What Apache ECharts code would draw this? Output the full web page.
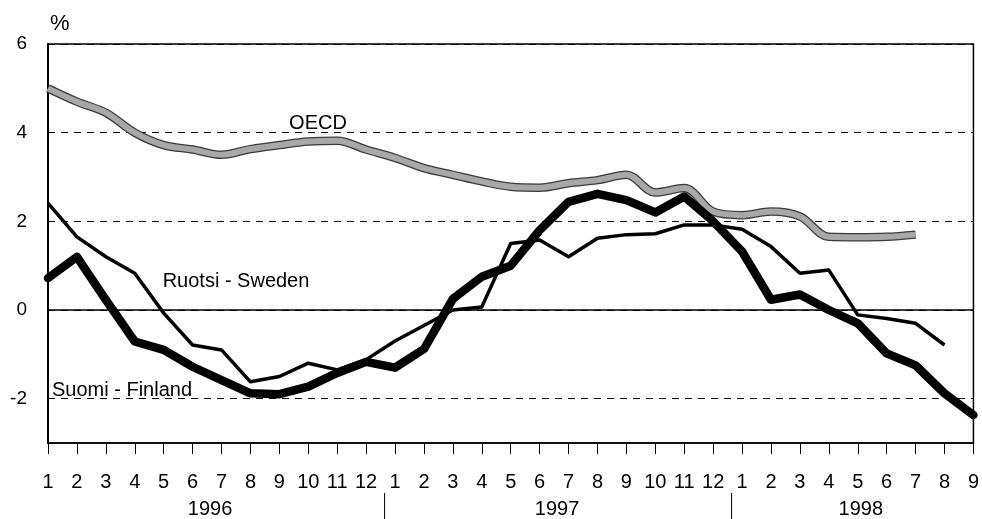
<!DOCTYPE html>
<html><head><meta charset="utf-8">
<script src="https://cdn.jsdelivr.net/npm/echarts@6/dist/echarts.min.js"></script>
<style>html,body{margin:0;padding:0;background:#fff}#c{width:982px;height:519px}</style>
</head><body><div id="c"></div>
<script>
const months = ['1','2','3','4','5','6','7','8','9','10','11','12',
                '1','2','3','4','5','6','7','8','9','10','11','12',
                '1','2','3','4','5','6','7','8','9'];
const years = ['1996','1997','1998'];
const yearSpans = [[0,11],[12,23],[24,32]];
const yTicks = [-2,0,2,4,6];
const oecd = [5.0,4.7,4.45,4.0,3.72,3.62,3.5,3.63,3.72,3.8,3.82,3.62,
              3.43,3.2,3.05,2.9,2.78,2.76,2.86,2.93,3.05,2.65,2.75,2.22,
              2.14,2.22,2.11,1.65,1.64,1.65,1.70,null,null];
const sweden = [2.41,1.65,1.2,0.83,-0.07,-0.79,-0.9,-1.62,-1.5,-1.2,-1.35,-1.12,
                -0.7,-0.35,0.0,0.07,1.5,1.58,1.2,1.62,1.7,1.72,1.92,1.92,
                1.82,1.43,0.83,0.9,-0.11,-0.19,-0.3,-0.79,null];
const finland = [0.72,1.2,0.23,-0.71,-0.9,-1.28,-1.58,-1.88,-1.9,-1.73,-1.42,-1.17,
                 -1.3,-0.88,0.25,0.75,1.0,1.8,2.44,2.62,2.48,2.2,2.56,2.0,
                 1.32,0.23,0.35,0.0,-0.3,-0.98,-1.25,-1.88,-2.37];
const seriesNames = ['OECD','Ruotsi - Sweden','Suomi - Finland'];

const FONT = 'Liberation Sans, Arial, Helvetica, sans-serif';
const NARROW = '"Liberation Sans Narrow", "Arial Narrow", "Liberation Sans", sans-serif';
const chart = echarts.init(document.getElementById('c'));
chart.setOption({
  animation: false,
  backgroundColor: '#fff',
  grid: {left: 48, right: 8, top: 44, bottom: 76, show: true, borderColor: '#000', borderWidth: 1.5},
  xAxis: {
    type: 'category', data: months, boundaryGap: false,
    axisLine: {show: true, onZero: false, lineStyle: {color: '#000', width: 1.5}},
    axisTick: {show: true, interval: 0, length: 11, lineStyle: {color: '#000', width: 1}},
    axisLabel: {interval: 0, margin: 29, color: '#000', fontSize: 20, fontFamily: NARROW},
    splitLine: {show: false}
  },
  yAxis: {
    type: 'value', min: -3, max: 6, interval: 1,
    name: '%', nameLocation: 'end', nameGap: 9,
    nameTextStyle: {color: '#000', fontSize: 22, fontFamily: FONT, align: 'left', padding: [0,0,0,2]},
    axisLine: {show: true, lineStyle: {color: '#000', width: 2}},
    axisTick: {show: false},
    axisLabel: {color: '#000', fontSize: 19, fontFamily: NARROW, margin: 21, padding: [5,0,0,0],
      formatter: v => (yTicks.indexOf(v) >= 0 ? String(v) : '')},
    splitLine: {show: true, lineStyle: {color: ['transparent', '#000'], type: [7, 6], width: 1}}
  },
  series: [
    {name: seriesNames[0] + '-edge', type: 'line', data: oecd, smooth: 0.35, symbol: 'none',
     lineStyle: {color: '#3a3a3a', width: 8.5}, z: 2},
    {name: seriesNames[0], type: 'line', data: oecd, smooth: 0.35, symbol: 'none',
     lineStyle: {color: '#a8a8a8', width: 6}, z: 3},
    {name: seriesNames[1], type: 'line', data: sweden, symbol: 'none',
     lineStyle: {color: '#000', width: 3.5, join: 'round'}, z: 4,
     markLine: {silent: true, symbol: 'none', label: {show: false},
       lineStyle: {color: '#000', type: 'solid', width: 1.5}, data: [{yAxis: 0}]}},
    {name: seriesNames[2], type: 'line', data: finland, symbol: 'none',
     lineStyle: {color: '#000', width: 8.5, join: 'round', cap: 'round'}, z: 5}
  ]
});

function placeExtras() {
  const yBase = chart.convertToPixel({yAxisIndex: 0}, -3);
  const els = [];
  yearSpans.forEach((s, k) => {
    const x0 = chart.convertToPixel({xAxisIndex: 0}, s[0]);
    const x1 = chart.convertToPixel({xAxisIndex: 0}, s[1]);
    els.push({type: 'text', x: (x0 + x1) / 2 + 3, y: yBase + 66,
      style: {text: years[k], fill: '#000', font: '20px ' + NARROW, textAlign: 'center', textVerticalAlign: 'middle'}});
    if (k < yearSpans.length - 1) {
      const xn = chart.convertToPixel({xAxisIndex: 0}, yearSpans[k + 1][0]);
      const xs = (x1 + xn) / 2 + 4;
      els.push({type: 'line', shape: {x1: xs, y1: yBase + 50, x2: xs, y2: 519},
        style: {stroke: '#000', lineWidth: 1}});
    }
  });
  els.push({type: 'text', x: 318, y: 123, style: {text: seriesNames[0], fill: '#000', font: '20px ' + FONT, textAlign: 'center', textVerticalAlign: 'middle'}});
  els.push({type: 'text', x: 236, y: 281, style: {text: seriesNames[1], fill: '#000', font: '20px ' + FONT, textAlign: 'center', textVerticalAlign: 'middle'}});
  els.push({type: 'text', x: 52, y: 390, style: {text: seriesNames[2], fill: '#000', font: '20px ' + FONT, textAlign: 'left', textVerticalAlign: 'middle'}});
  chart.setOption({graphic: els});
}
placeExtras();
</script>
</body></html>
